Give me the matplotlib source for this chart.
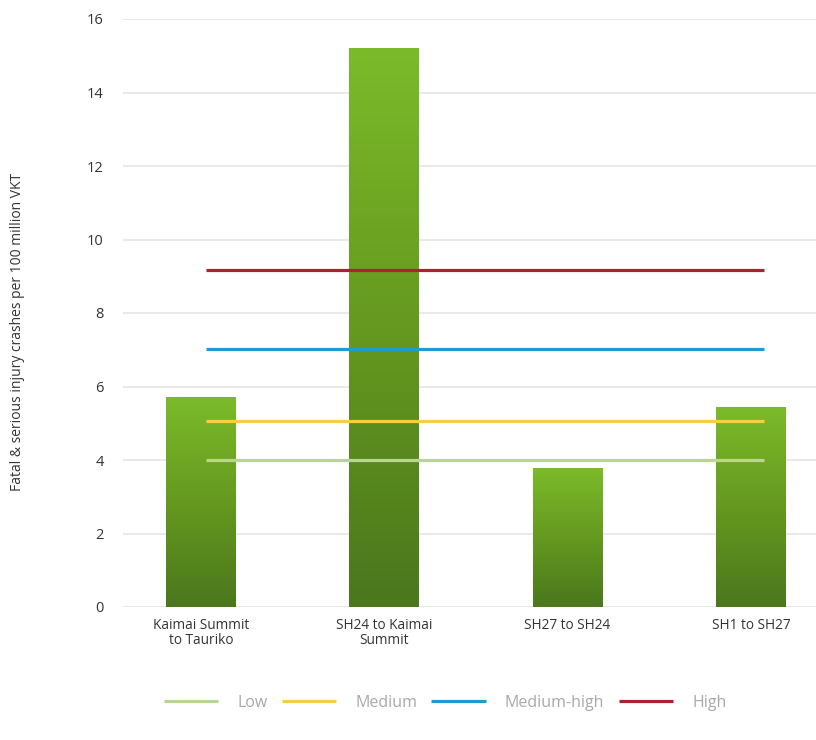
import matplotlib
matplotlib.use("Agg")
import matplotlib.pyplot as plt
import numpy as np
from matplotlib.colors import LinearSegmentedColormap

plt.rcParams["font.family"] = ["Open Sans", "DejaVu Sans"]

# road sections and crash rates
sections = ["Kaimai Summit\nto Tauriko", "SH24 to Kaimai\nSummit", "SH27 to SH24", "SH1 to SH27"]
rates = [5.69, 15.21, 3.76, 5.44]

# risk band thresholds
band_names = ["Low", "Medium", "Medium-high", "High"]
band_values = [4.0, 5.06, 7.02, 9.17]
band_colors = ["#b9d68f", "#f3d03e", "#1e9bd0", "#b3202d"]

fig = plt.figure(figsize=(8.16, 7.40), dpi=100)
ax = fig.add_axes([123 / 816, 1 - 607 / 740, 1 - 123 / 816, (607 - 19) / 740])

x = np.arange(len(sections))
width = 0.38

# green bars with a vertical gradient, light at top, dark at bottom
green = LinearSegmentedColormap.from_list("green", ["#4b771d", "#65991f", "#7bbb2a"])
grad = np.linspace(0, 1, 256).reshape(-1, 1)
for xi, h in zip(x, rates):
    ax.imshow(grad, cmap=green, origin="lower", aspect="auto",
              extent=(xi - width / 2, xi + width / 2, 0, h), zorder=2)

# band lines run from the first section to the last
for name, val, col in zip(band_names, band_values, band_colors):
    ax.hlines(val, x[0] + 0.03, x[-1] + 0.07, colors=col, linewidth=2.3,
              label=name, zorder=3)

ax.set_xlim(-0.425, 3.355)
ax.set_ylim(0, 16)
ax.set_yticks(range(0, 17, 2))
ax.set_xticks(x)
ax.set_xticklabels(sections, fontsize=9.8, color="#333333", linespacing=1.0)
ax.tick_params(axis="y", labelsize=10.5, colors="#333333", length=0, pad=14)
ax.tick_params(axis="x", length=0, pad=8)
ax.grid(axis="y", color="#e5e5e5", linewidth=1.2, zorder=0)
ax.set_axisbelow(True)
for s in ax.spines.values():
    s.set_visible(False)

fig.text(18 / 816, 1 - 332 / 740, "Fatal & serious injury crashes per 100 million VKT",
         rotation=90, ha="center", va="center", fontsize=10, color="#333333")

leg = fig.legend(loc="center", bbox_to_anchor=(445 / 816, 1 - 703 / 740), ncol=4,
                 frameon=False, fontsize=11.5, handlelength=3.4, columnspacing=0.9,
                 handletextpad=1.2)
for t in leg.get_texts():
    t.set_color("#a8a8a8")

fig.savefig("out.png", dpi=100)
